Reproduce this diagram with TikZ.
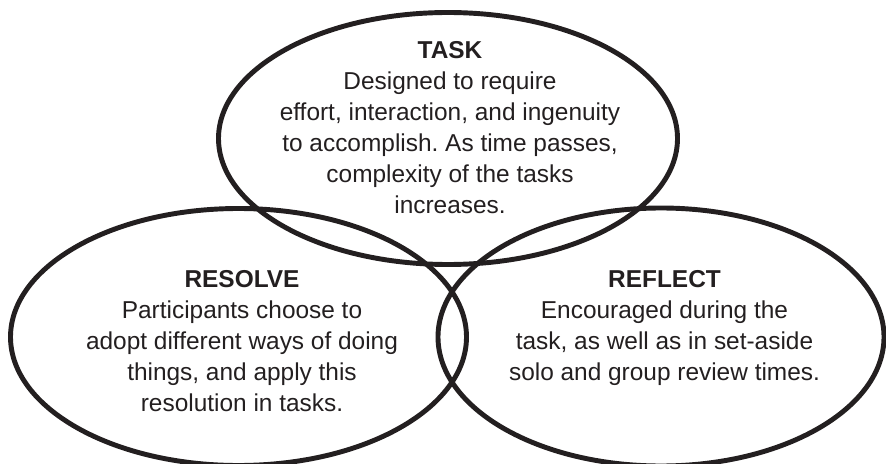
\documentclass[tikz,border=0pt]{standalone}
\usepackage{fontspec}
\setmainfont{Liberation Sans}
\usepackage{tikz}
\definecolor{ink}{HTML}{231F20}
\frenchspacing

\begin{document}
\begin{tikzpicture}[
    ring/.style={draw=ink, line width=2.8pt},
    blurb/.style={anchor=north, align=center, inner sep=0pt, text=ink,
      font=\fontsize{13.9}{17.6}\selectfont}
  ]
    \useasboundingbox (0, 0) rectangle (17.72, 9.26);

    % centres of the three rings
    \coordinate (T) at (8.96, 6.49);
    \coordinate (L) at (4.77, 2.52);
    \coordinate (R) at (13.22, 2.52);

    \draw[ring] (T) ellipse [x radius=4.59, y radius=2.52];
    \draw[ring] (L) ellipse [x radius=4.56, y radius=2.57];
    \draw[ring] (R) ellipse [x radius=4.46, y radius=2.58];

    \node[blurb] (task) at (9.0, 8.43) {\textbf{TASK}\\
      Designed to require\\
      effort, interaction, and ingenuity\\
      to accomplish. As time passes,\\
      complexity of the tasks\\
      increases.};
    \node[blurb] (resolve) at (4.84, 3.86) {\textbf{RESOLVE}\\
      Participants choose to\\
      adopt different ways of doing\\
      things, and apply this\\
      resolution in tasks.};
    \node[blurb] (reflect) at (13.29, 3.86) {\textbf{REFLECT}\\
      Encouraged during the\\
      task, as well as in set-aside\\
      solo and group review times.};
  \end{tikzpicture}
\end{document}
